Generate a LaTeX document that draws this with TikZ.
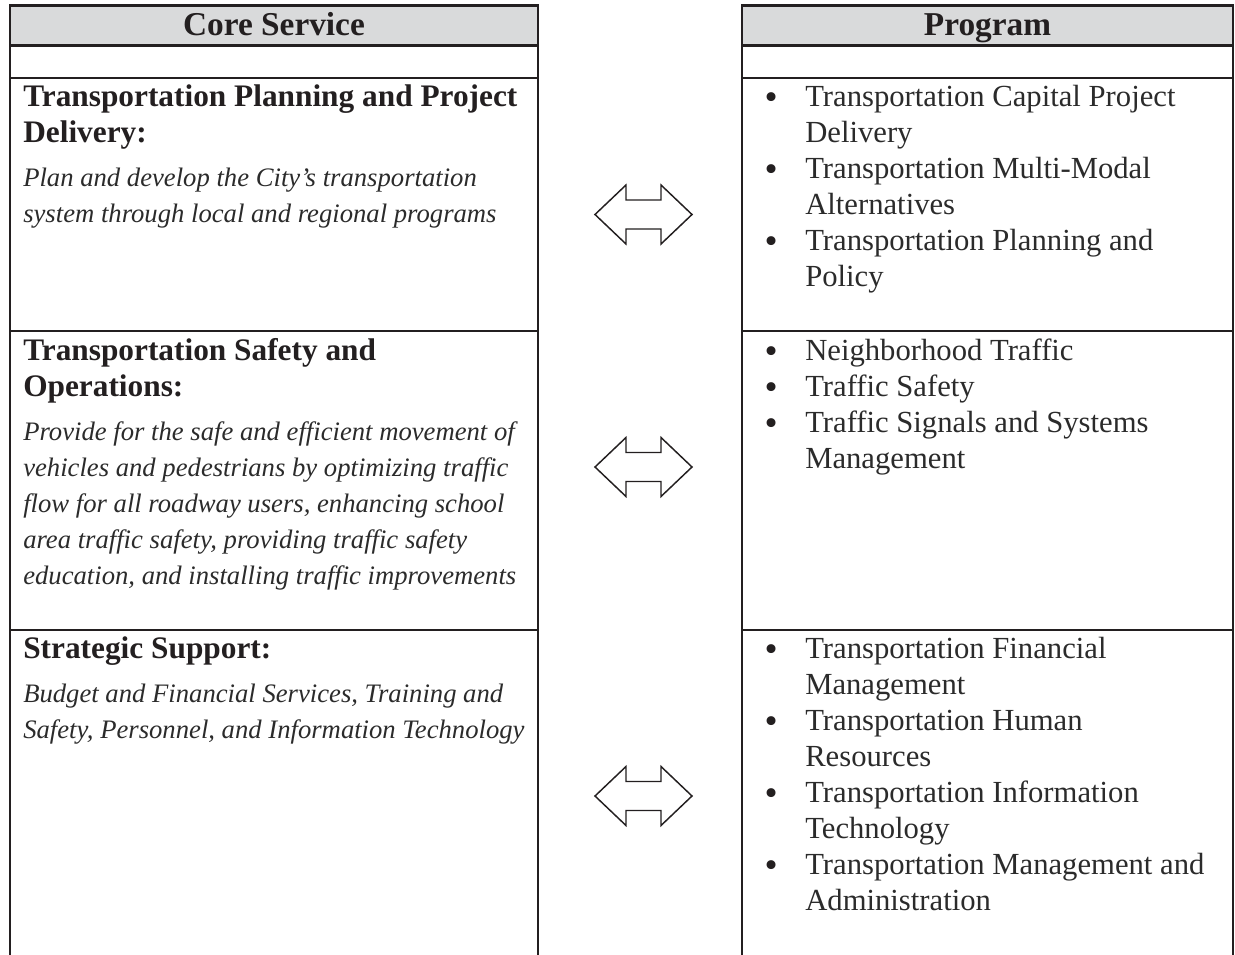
\documentclass[tikz,border=0pt]{standalone}
\usepackage{fontspec}
\setmainfont{Liberation Serif}
\newfontfamily\bulfont{DejaVu Sans}
\definecolor{ink}{HTML}{231F20}
\definecolor{txt}{HTML}{2B2B2B}
\definecolor{hdr}{HTML}{D9DADB}
\begin{document}
\begin{tikzpicture}[x=0.75pt,y=-0.75pt,
  grid/.style={draw=ink,line width=1.6pt},
  hdrtext/.style={inner sep=0,anchor=base,font=\fontsize{25}{30}\selectfont\bfseries,text=ink},
  boldline/.style={inner sep=0,anchor=base west,font=\fontsize{23.5}{28}\selectfont\bfseries,text=ink},
  itline/.style={inner sep=0,anchor=base west,font=\fontsize{20}{24}\selectfont\itshape,text=txt},
  regline/.style={inner sep=0,anchor=base west,font=\fontsize{23}{28}\selectfont,text=txt},
  bul/.style={inner sep=0,anchor=base,font=\bulfont\fontsize{23}{27}\selectfont,text=ink,yshift=-2pt},
  dblarrow/.style={draw=ink,line width=1.1pt,fill=white,line join=miter}]
\useasboundingbox (0,0) rectangle (1235,954);

% header fills
\fill[hdr] (10,5.5) rectangle (538,45.5);
\fill[hdr] (742,5.5) rectangle (1233,45.5);

% left table grid
\draw[grid] (10,960) -- (10,5.5) -- (538,5.5) -- (538,960);
\foreach \y in {45.5,77.7,331,630} \draw[grid] (10,\y) -- (538,\y);
% right table grid
\draw[grid] (742,960) -- (742,5.5) -- (1233,5.5) -- (1233,960);
\foreach \y in {45.5,77.7,331,630} \draw[grid] (742,\y) -- (1233,\y);

% headers
\node[hdrtext] (hcore) at (274,35) {Core Service};
\node[hdrtext] (hprog) at (987.5,35) {Program};

% left column, row 1
\node[boldline] (l1a) at (23,106) {Transportation Planning and Project};
\node[boldline] (l1b) at (23,142) {Delivery:};
\node[itline] (l1c) at (23,186) {Plan and develop the City’s transportation};
\node[itline] (l1d) at (23,222) {system through local and regional programs};

% left column, row 2
\node[boldline] (l2a) at (23,360) {Transportation Safety and};
\node[boldline] (l2b) at (23,396) {Operations:};
\node[itline] (l2c) at (23,440) {Provide for the safe and efficient movement of};
\node[itline] (l2d) at (23,476) {vehicles and pedestrians by optimizing traffic};
\node[itline] (l2e) at (23,512) {flow for all roadway users, enhancing school};
\node[itline] (l2f) at (23,548) {area traffic safety, providing traffic safety};
\node[itline] (l2g) at (23,584) {education, and installing traffic improvements};

% left column, row 3
\node[boldline] (l3a) at (23,658) {Strategic Support:};
\node[itline] (l3b) at (23,702) {Budget and Financial Services, Training and};
\node[itline] (l3c) at (23,738) {Safety, Personnel, and Information Technology};

% right column, row 1
\node[bul] (b11) at (772,106) {•};
\node[regline] (r1a) at (805,106) {Transportation Capital Project};
\node[regline] (r1b) at (805,142) {Delivery};
\node[bul] (b12) at (772,178) {•};
\node[regline] (r1c) at (805,178) {Transportation Multi-Modal};
\node[regline] (r1d) at (805,214) {Alternatives};
\node[bul] (b13) at (772,250) {•};
\node[regline] (r1e) at (805,250) {Transportation Planning and};
\node[regline] (r1f) at (805,286) {Policy};

% right column, row 2
\node[bul] (b21) at (772,360) {•};
\node[regline] (r2a) at (805,360) {Neighborhood Traffic};
\node[bul] (b22) at (772,396) {•};
\node[regline] (r2b) at (805,396) {Traffic Safety};
\node[bul] (b23) at (772,432) {•};
\node[regline] (r2c) at (805,432) {Traffic Signals and Systems};
\node[regline] (r2d) at (805,468) {Management};

% right column, row 3
\node[bul] (b31) at (772,658) {•};
\node[regline] (r3a) at (805,658) {Transportation Financial};
\node[regline] (r3b) at (805,694) {Management};
\node[bul] (b32) at (772,730) {•};
\node[regline] (r3c) at (805,730) {Transportation Human};
\node[regline] (r3d) at (805,766) {Resources};
\node[bul] (b33) at (772,802) {•};
\node[regline] (r3e) at (805,802) {Transportation Information};
\node[regline] (r3f) at (805,838) {Technology};
\node[bul] (b34) at (772,874) {•};
\node[regline] (r3g) at (805,874) {Transportation Management and};
\node[regline] (r3h) at (805,910) {Administration};

% double block arrows
\foreach \cy in {214.5,467,796}
  \draw[dblarrow] (595,\cy) -- (626,\cy-29.5) -- (626,\cy-14.5) -- (661,\cy-14.5)
    -- (661,\cy-29.5) -- (692,\cy) -- (661,\cy+29.5) -- (661,\cy+14.5)
    -- (626,\cy+14.5) -- (626,\cy+29.5) -- cycle;
\end{tikzpicture}
\end{document}
